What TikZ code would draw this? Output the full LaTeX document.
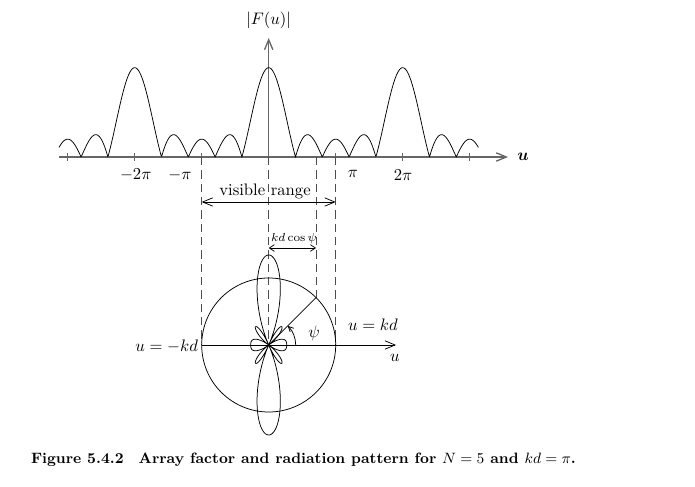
\documentclass[tikz,border=0pt]{standalone}
\usepackage{amsmath}
\usetikzlibrary{arrows.meta,calc}
\begin{document}
\begin{tikzpicture}[x=0.6pt,y=-0.6pt,
  declare function={AF(\q)=abs(1+2*cos(\q)+2*cos(2*\q));},
  curve/.style={line width=0.45pt},
  axisline/.style={draw=black!60,line width=0.8pt},
  dashline/.style={draw=black!70,line width=0.5pt,dash pattern=on 5pt off 3pt},
  onearrow/.style={-{Straight Barb[length=6pt,width=5pt]}},
  twoarrow/.style={{Straight Barb[length=6pt,width=5pt]}-{Straight Barb[length=6pt,width=5pt]}},
  smallarrow/.style={{Straight Barb[length=3pt,width=4pt]}-{Straight Barb[length=3pt,width=4pt]}},
  lbl/.style={inner sep=1pt}]
\useasboundingbox (0,0) rectangle (695,487);
% ---------- top plot ----------
\coordinate (O) at (268.7,157);
\coordinate (xs) at (59,157);
\coordinate (xe) at (508,157);
\coordinate (ye) at (268.7,38);
\draw[axisline,onearrow] (xs) -- (xe);
\draw[axisline,onearrow] (O) -- (ye);
\foreach \k in {-3,-2,-1,0,1,2,3} {
  \draw[axisline] ({268.7+67*\k},153) -- ({268.7+67*\k},161);
}
% u in degrees: 180 deg = pi = 67 px
\draw[curve] plot[domain=-563.4:563.4,samples=801,variable=\a]
  ({268.7+0.37222*\a},{157-17.86*AF(\a)});
\node[lbl] (lu) at (523,157) {$\boldsymbol{u}$};
\node[lbl] (lF) at (268.7,20) {$|F(u)|$};
\node[lbl] (lm2) at (135.7,175) {$-2\pi$};
\node[lbl] (lm1) at (180,175) {$-\pi$};
\node[lbl] (lp1) at (353,174) {$\pi$};
\node[lbl] (lp2) at (403,175) {$2\pi$};
% ---------- dashed projections ----------
\coordinate (C) at (268.7,345);
\coordinate (ta) at (201.7,157);
\coordinate (tb) at (268.7,157);
\coordinate (tc) at (316.1,157);
\coordinate (td) at (335.7,157);
\coordinate (ba) at (201.7,345);
\coordinate (bd) at (335.7,345);
\coordinate (P) at (316.1,297.6);
\draw[dashline] (ta) -- (ba);
\draw[dashline] (tb) -- (C);
\draw[dashline] (tc) -- (P);
\draw[dashline] (td) -- (bd);
% visible range
\coordinate (va) at (201.7,202);
\coordinate (vb) at (335.7,202);
\draw[curve,twoarrow] (va) -- (vb);
\node[lbl] (vr) at (265,191) {visible range};
% kd cos psi
\coordinate (ka) at (268.7,248);
\coordinate (kb) at (316.1,248);
\draw[curve,smallarrow] (ka) -- (kb);
\node[lbl] (kt) at (294,239) {\scriptsize $kd\cos\psi$};
% ---------- polar pattern ----------
\draw[curve] (C) circle[radius=40.2pt];
\draw[curve] plot[domain=0:360,samples=721,variable=\t]
  ({268.7+18*AF(180*cos(\t))*cos(\t)},{345-18*AF(180*cos(\t))*sin(\t)});
\coordinate (ue) at (396,345);
\draw[curve,onearrow] (ba) -- (ue);
\draw[curve] (C) -- (P);
\coordinate (as) at (295.7,345);
\draw[curve,-{Straight Barb[length=3pt,width=3pt]}] (as) arc[start angle=0,end angle=45,radius=16.2pt];
\node[lbl,anchor=east] (lmk) at (200,346) {$u=-kd$};
\node[lbl] (lpk) at (373,325) {$u=kd$};
\node[lbl] (lpsi) at (314,333) {$\psi$};
\node[lbl] (lu2) at (395,358) {$u$};
% ---------- caption ----------
\node[lbl,anchor=west] (cap) at (29,460) {\fontsize{9}{11}\selectfont\bfseries Figure 5.4.2\hskip 9pt Array factor and radiation pattern for $N=5$ and $kd=\pi$.};
\end{tikzpicture}
\end{document}
